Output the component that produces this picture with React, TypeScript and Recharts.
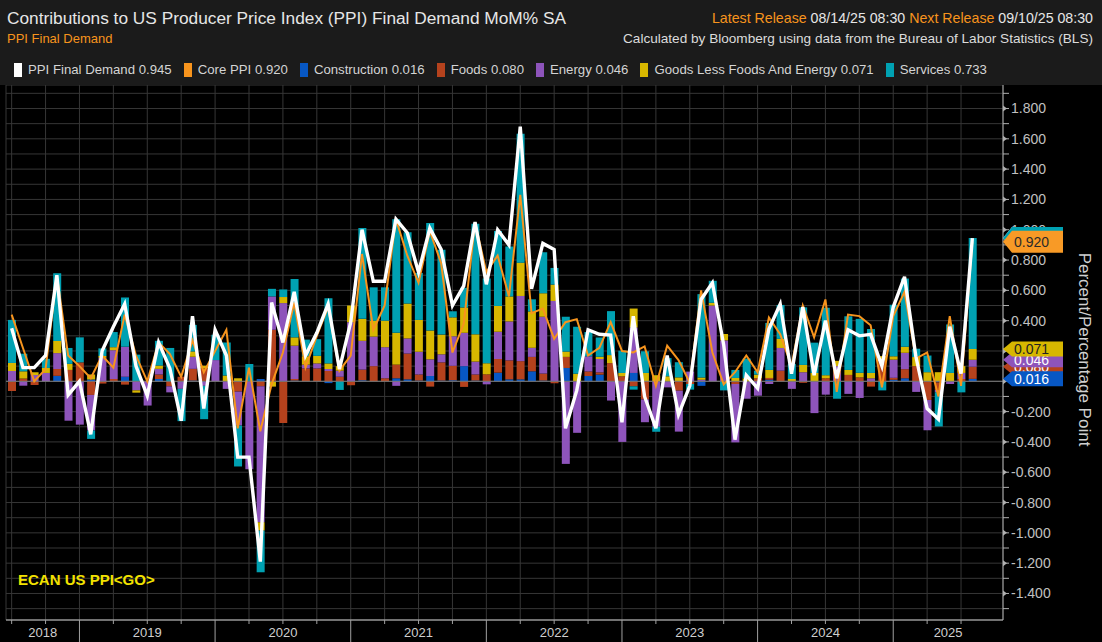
import React from 'react';
import {
  ComposedChart,
  Bar,
  Line,
  XAxis,
  YAxis,
  CartesianGrid,
  ReferenceLine,
} from 'recharts';

// monthly releases, Jun 2018 .. Jul 2025
const months = [
  'Jun 2018', 'Jul 2018', 'Aug 2018', 'Sep 2018', 'Oct 2018', 'Nov 2018', 'Dec 2018',
  'Jan 2019', 'Feb 2019', 'Mar 2019', 'Apr 2019', 'May 2019', 'Jun 2019', 'Jul 2019', 'Aug 2019', 'Sep 2019', 'Oct 2019', 'Nov 2019', 'Dec 2019',
  'Jan 2020', 'Feb 2020', 'Mar 2020', 'Apr 2020', 'May 2020', 'Jun 2020', 'Jul 2020', 'Aug 2020', 'Sep 2020', 'Oct 2020', 'Nov 2020', 'Dec 2020',
  'Jan 2021', 'Feb 2021', 'Mar 2021', 'Apr 2021', 'May 2021', 'Jun 2021', 'Jul 2021', 'Aug 2021', 'Sep 2021', 'Oct 2021', 'Nov 2021', 'Dec 2021',
  'Jan 2022', 'Feb 2022', 'Mar 2022', 'Apr 2022', 'May 2022', 'Jun 2022', 'Jul 2022', 'Aug 2022', 'Sep 2022', 'Oct 2022', 'Nov 2022', 'Dec 2022',
  'Jan 2023', 'Feb 2023', 'Mar 2023', 'Apr 2023', 'May 2023', 'Jun 2023', 'Jul 2023', 'Aug 2023', 'Sep 2023', 'Oct 2023', 'Nov 2023', 'Dec 2023',
  'Jan 2024', 'Feb 2024', 'Mar 2024', 'Apr 2024', 'May 2024', 'Jun 2024', 'Jul 2024', 'Aug 2024', 'Sep 2024', 'Oct 2024', 'Nov 2024', 'Dec 2024',
  'Jan 2025', 'Feb 2025', 'Mar 2025', 'Apr 2025', 'May 2025', 'Jun 2025', 'Jul 2025',
];

const construction = [
  0, 0, 0, 0, 0.036, 0, 0,
  0.012, 0, 0, 0.03, 0, 0, 0.015, 0, 0, 0.005, 0, 0,
  0, 0, 0, 0.015, 0, 0, 0.005, 0, 0, -0.012, 0, 0,
  0.007, 0, 0, 0.02, 0.013, 0.005, 0.035, 0.005, 0.007, 0.1, 0.005, 0,
  0.057, 0.013, 0.013, 0.066, 0.005, 0, 0.088, 0, 0.035, 0.044, 0, 0,
  0.055, 0, 0, 0, 0, 0, -0.03, 0, 0, 0, 0, 0,
  0.011, 0, 0, 0, 0, 0, 0, 0, 0, 0, 0, 0.01,
  0.02, 0, 0, -0.007, 0, 0, 0.016,
];

const foods = [
  -0.064, 0.018, -0.024, 0, 0.045, 0.075, 0.125,
  -0.09, -0.015, 0.015, -0.022, 0, 0, 0.03, -0.033, 0.03, 0.077, 0.085, 0,
  0, -0.068, 0, -0.033, 0.34, -0.275, 0.01, 0.085, 0.085, 0.068, 0.03, -0.026,
  0.07, 0.1, 0.02, 0.09, 0.17, 0.04, -0.035, 0.12, 0.095, -0.037, 0.04, 0.046,
  0.09, 0.125, 0.12, 0.095, 0.046, -0.013, 0.073, 0, 0.03, 0.015, 0.12, 0.033,
  -0.033, -0.12, 0, 0, -0.062, -0.018, 0, 0, 0, -0.018, 0, 0.02,
  0.011, 0.07, 0, -0.01, 0, 0.02, 0, 0.042, 0.026, -0.035, 0.136, 0.013,
  0.06, 0.1, -0.123, -0.05, 0, 0.015, 0.08,
];

const energy = [
  0.068, -0.029, 0.042, 0.055, 0.105, -0.26, -0.286,
  -0.235, 0.155, 0.19, 0.198, -0.06, -0.16, 0.037, -0.04, -0.05, 0.08, -0.03, 0.14,
  -0.05, -0.224, -0.58, -0.897, 0.22, 0.516, 0.22, 0.025, 0.033, 0.013, 0.04, 0.39,
  0.19, 0.195, 0.205, -0.03, 0.1, 0.15, 0.11, 0.053, 0.195, 0.22, 0.085, -0.02,
  0.18, 0.257, 0.43, 0.06, 0.375, 0.53, -0.545, -0.34, 0.1, 0.088, -0.127, -0.4,
  0.3, -0.15, -0.3, -0.04, -0.27, 0.064, 0.01, 0.5, 0.27, -0.385, -0.115, -0.095,
  -0.018, 0.15, -0.05, 0.06, -0.21, -0.088, 0.1, -0.083, -0.11, 0.02, 0, 0.12,
  0.108, -0.07, -0.2, -0.015, -0.018, 0.04, 0.046,
];

const goods = [
  0.053, 0.048, 0.018, 0.033, 0.08, 0.04, 0,
  0.033, 0.012, 0.02, 0, -0.015, 0, 0.022, 0, 0, 0.035, 0.018, 0,
  0.038, 0.02, 0, -0.055, -0.035, 0.04, 0.055, 0.055, 0.05, 0.037, 0.03, 0.11,
  0.145, 0.105, 0.175, 0.21, 0.23, 0.21, 0.19, 0.13, 0.125, 0.167, 0.18, 0.073,
  0.17, 0.165, 0.22, 0.24, 0.155, 0.108, 0.035, 0.05, 0, 0.015, 0.053, 0.022,
  0.125, 0.055, 0.04, 0.033, 0.026, 0, 0.015, 0.018, 0.042, 0.022, 0.02, 0.024,
  0.053, 0.06, 0.015, 0.048, 0.055, 0.02, 0.035, 0.033, 0.03, 0.035, 0.03, 0.022,
  0.04, 0.06, 0.06, 0.06, 0.055, 0.045, 0.071,
];

const services = [
  0.284, 0.116, 0, 0.06, 0.447, 0.105, 0.165,
  -0.055, 0.05, 0.1, 0.325, 0.176, 0, 0.163, 0.22, -0.213, 0.175, -0.22, 0.167,
  0.218, -0.27, 0.114, -0.275, 0.05, 0.05, 0.385, 0.11, 0.11, 0.43, -0.057, 0,
  0.6, 0.22, 0.22, 0.75, 0.47, 0.31, 0.71, 0.56, 0.04, 0.13, 0.73, 0.56,
  0.495, 0.33, 0.85, 0.08, 0.27, 0.11, 0.23, 0.31, 0.16, 0.127, 0.29, 0.147,
  -0.022, 0.143, -0.033, 0.12, 0.1, -0.037, 0.55, 0.145, -0.06, 0.053, 0.13, 0.026,
  0.31, 0.224, 0.1, 0.38, 0.2, 0.445, -0.115, 0.354, 0.356, 0.29, -0.06, 0.34,
  0.45, 0.055, 0.11, -0.226, 0.32, -0.073, 0.733,
];

const ppiFinal = [
  0.35, 0.09, 0.09, 0.17, 0.7, -0.09, 0,
  -0.35, 0.2, 0.36, 0.51, 0.1, -0.095, 0.257, 0.085, -0.26, 0.43, -0.18, 0.34,
  0.17, -0.5, -0.5, -1.19, 0.52, 0.256, 0.59, 0.17, 0.32, 0.51, 0.08, 0.39,
  1.0, 0.66, 0.66, 1.07, 0.98, 0.72, 1.01, 0.87, 0.5, 0.63, 1.05, 0.64,
  1.0, 0.9, 1.68, 0.61, 0.91, 0.87, -0.31, -0.06, 0.34, 0.31, 0.305, -0.27,
  0.43, -0.1, -0.31, 0.17, -0.22, -0.03, 0.54, 0.65, 0.24, -0.385, 0.04, -0.046,
  0.345, 0.51, 0.05, 0.49, 0.04, 0.4, 0.02, 0.34, 0.3, 0.31, 0.1, 0.49,
  0.69, 0.165, -0.18, -0.25, 0.36, 0.05, 0.945,
];

const corePpi = [
  0.44, 0.22, 0, 0.08, 0.7, 0.17, 0.1,
  0.02, 0.17, 0.09, 0.44, 0.17, 0, 0.257, 0.18, 0.03, 0.27, 0.06, 0.2,
  0.34, -0.31, 0.09, -0.33, -0.02, 0.19, 0.52, 0.09, 0.3, 0.49, 0.07, 0.17,
  0.84, 0.34, 0.5, 1.07, 0.83, 0.65, 0.99, 0.78, 0.19, 0.38, 1.05, 0.72,
  0.83, 0.56, 1.23, 0.45, 0.48, 0.28, 0.39, 0.41, 0.17, 0.22, 0.39, 0.2,
  0.19, 0.23, -0.03, 0.235, 0.14, -0.01, 0.6, 0.19, -0.02, 0.06, 0.17, 0.06,
  0.42, 0.31, 0.1, 0.5, 0.29, 0.54, -0.07, 0.44, 0.43, 0.37, -0.04, 0.43,
  0.59, 0.15, 0.19, -0.1, 0.43, -0.03, 0.92,
];

const yTicks = [
  -1.5, -1.4, -1.3, -1.2, -1.1, -1.0, -0.9, -0.8, -0.7, -0.6, -0.5, -0.4, -0.3, -0.2, -0.1,
  0, 0.1, 0.2, 0.3, 0.4, 0.5, 0.6, 0.7, 0.8, 0.9, 1.0, 1.1, 1.2, 1.3, 1.4, 1.5, 1.6, 1.7, 1.8, 1.9,
];

const components = [
  { key: 'construction', name: 'Construction', color: '#0757c4', text: '#ffffff', values: construction },
  { key: 'foods', name: 'Foods', color: '#b5421d', text: '#ffffff', values: foods },
  { key: 'energy', name: 'Energy', color: '#8e54bb', text: '#ffffff', values: energy },
  { key: 'goods', name: 'Goods Less Foods And Energy', color: '#d7b700', text: '#222222', values: goods },
  { key: 'services', name: 'Services', color: '#00a1b2', text: '#222222', values: services },
];

const lines = [
  { key: 'ppi', name: 'PPI Final Demand', color: '#ffffff', values: ppiFinal },
  { key: 'core', name: 'Core PPI', color: '#f7941d', values: corePpi },
];

const data = months.map((month, i) => {
  const row: Record<string, string | number> = { month };
  components.forEach((c) => (row[c.key] = c.values[i]));
  lines.forEach((l) => (row[l.key] = l.values[i]));
  return row;
});

const W = 1102;
const H = 642;
const HEADER_H = 85;
const PLOT_LEFT = 6;
const PLOT_RIGHT = 1003;
const PAD_RIGHT = 25;
const TAG_AXIS_W = 1;
const BAND = (PLOT_RIGHT - PLOT_LEFT - PAD_RIGHT) / months.length;
const FONT = '"Liberation Sans", Arial, sans-serif';
const Y_DOMAIN = [-1.575, 1.955];

const last = months.length - 1;
const fmt = (v: number) => v.toFixed(3);

// cumulative tops of the latest stacked bar, where the value tags sit
const stackTops: number[] = [];
components.reduce((acc, c) => {
  const v = c.values[last];
  const next = v > 0 ? acc + v : acc;
  stackTops.push(next);
  return next;
}, 0);

// value tags on the right axis, in drawing order (later ones on top)
const tags = [
  { value: ppiFinal[last], bg: '#ffffff', fg: '#222222', text: fmt(ppiFinal[last]), h: 22 },
  { value: stackTops[4], bg: components[4].color, fg: '#222222', text: fmt(services[last]), h: 22 },
  { value: corePpi[last], bg: '#f89a26', fg: '#2a2a2a', text: fmt(corePpi[last]), h: 22 },
  ...[1, 2, 3, 0].map((i) => ({
    value: stackTops[i],
    bg: components[i].color,
    fg: components[i].text,
    text: fmt(components[i].values[last]),
    h: 15,
  })),
];

function XTick(props: any) {
  const { x, y, payload } = props;
  const [mon, yr] = String(payload.value).split(' ');
  const isDec = mon === 'Dec';
  let label = null;
  if (mon === 'Jun') {
    const left = Math.max(PLOT_LEFT, x - 6 * BAND);
    const right = Math.min(PLOT_RIGHT, x + 6 * BAND);
    label = (
      <text x={(left + right) / 2} y={y + 17} textAnchor="middle" fill="#cfcfcf" fontSize={13}>
        {yr}
      </text>
    );
  }
  return (
    <g>
      <line x1={x} x2={x} y1={y} y2={y + (isDec ? 22 : 4)} stroke="#a0a0a0" />
      {label}
    </g>
  );
}

function YTick(props: any) {
  const { x, y, payload } = props;
  const v = Number(payload.value);
  const major = Math.round(v * 10) % 2 === 0;
  const x0 = PLOT_RIGHT;
  return (
    <g>
      {major && <path d={`M${x0} ${y - 3} L${x0 + 4} ${y} L${x0} ${y + 3} Z`} fill="#b0b0b0" />}
      <line x1={x0} x2={x0 + 6} y1={y} y2={y} stroke="#b0b0b0" />
      {major && (
        <text x={x0 + 8} y={y + 5} fill="#c0c0c0" fontSize={14}>
          {fmt(v)}
        </text>
      )}
    </g>
  );
}

function TagTick(props: any) {
  const { y, payload } = props;
  const tag = tags.find((t) => Math.abs(t.value - Number(payload.value)) < 1e-9);
  if (!tag) return null;
  const x0 = PLOT_RIGHT;
  const h = tag.h;
  const pts = `${x0},${y} ${x0 + 9},${y - h / 2} ${x0 + 60},${y - h / 2} ${x0 + 60},${y + h / 2} ${x0 + 9},${y + h / 2}`;
  return (
    <g>
      <polygon points={pts} fill={tag.bg} />
      <text x={x0 + 11} y={y + 5} fill={tag.fg} fontSize={14}>
        {tag.text}
      </text>
    </g>
  );
}

function AxisTitle(props: any) {
  const { viewBox } = props;
  if (!viewBox) return null;
  const cx = PLOT_RIGHT + 76;
  const cy = viewBox.y + viewBox.height / 2 - 3;
  return (
    <text
      x={cx}
      y={cy}
      transform={`rotate(90 ${cx} ${cy})`}
      textAnchor="middle"
      fill="#d0d0d0"
      fontSize={17}
    >
      Percent/Percentage Point
    </text>
  );
}

export default function App() {
  const quarterTicks = months.filter((_, i) => i % 3 === 0);

  return (
    <div
      style={{
        position: 'absolute',
        left: 0,
        top: 0,
        width: W,
        height: H,
        background: '#000',
        fontFamily: FONT,
        overflow: 'hidden',
      }}
    >
      <div style={{ position: 'absolute', left: 0, top: 0, width: W, height: HEADER_H, background: '#1b1b1b' }}>
        <div style={{ position: 'absolute', left: 7, top: 7, fontSize: 17.3, lineHeight: '22px', color: '#e6e6e6' }}>
          Contributions to US Producer Price Index (PPI) Final Demand MoM% SA
        </div>
        <div style={{ position: 'absolute', left: 7, top: 31, fontSize: 13, lineHeight: '16px', color: '#f7941d' }}>
          PPI Final Demand
        </div>
        <div style={{ position: 'absolute', right: 9, top: 10, fontSize: 14.2, lineHeight: '17px', color: '#e6e6e6' }}>
          <span style={{ color: '#f7941d' }}>Latest Release</span> 08/14/25 08:30{' '}
          <span style={{ color: '#f7941d' }}>Next Release</span> 09/10/25 08:30
        </div>
        <div style={{ position: 'absolute', right: 9, top: 30, fontSize: 13.6, lineHeight: '17px', color: '#dcdcdc' }}>
          Calculated by Bloomberg using data from the Bureau of Labor Statistics (BLS)
        </div>
        <div
          style={{
            position: 'absolute',
            left: 14,
            top: 62,
            display: 'flex',
            alignItems: 'center',
            fontSize: 13.2,
            lineHeight: '16px',
            color: '#d4d4d4',
            whiteSpace: 'nowrap',
          }}
        >
          {[...lines, ...components].map((s) => (
            <div key={s.key} style={{ display: 'flex', alignItems: 'center', marginRight: 12 }}>
              <span style={{ width: 8, height: 14, background: s.color, marginRight: 6, display: 'inline-block' }} />
              {s.name} {fmt(s.values[last])}
            </div>
          ))}
        </div>
      </div>

      <div style={{ position: 'absolute', left: 0, top: HEADER_H }}>
        <ComposedChart
          width={W}
          height={H - HEADER_H}
          data={data}
          stackOffset="sign"
          margin={{ top: 0, right: 0, bottom: 0, left: PLOT_LEFT }}
        >
          <CartesianGrid stroke="#363636" strokeWidth={1} />
          <XAxis
            dataKey="month"
            ticks={quarterTicks}
            interval={0}
            height={22}
            tickSize={0}
            tickMargin={0}
            tickLine={false}
            tick={<XTick />}
            axisLine={{ stroke: '#c8c8c8' }}
            padding={{ left: 0, right: PAD_RIGHT }}
          />
          <YAxis
            orientation="right"
            width={W - PLOT_RIGHT - TAG_AXIS_W}
            domain={Y_DOMAIN}
            allowDataOverflow
            ticks={yTicks}
            interval={0}
            tickSize={0}
            tickMargin={0}
            tickLine={false}
            tick={<YTick />}
            axisLine={{ stroke: '#b0b0b0' }}
            label={<AxisTitle />}
          />
          <YAxis
            yAxisId="tags"
            orientation="right"
            width={TAG_AXIS_W}
            domain={Y_DOMAIN}
            allowDataOverflow
            ticks={tags.map((t) => t.value)}
            interval={0}
            tickSize={0}
            tickMargin={0}
            tickLine={false}
            axisLine={false}
            tick={<TagTick />}
          />
          <ReferenceLine y={0} stroke="#7c7c7c" />
          {components.map((c) => (
            <Bar
              key={c.key}
              dataKey={c.key}
              stackId="contrib"
              fill={c.color}
              barSize={8}
              isAnimationActive={false}
            />
          ))}
          <Line
            dataKey="core"
            type="linear"
            stroke="#f7941d"
            strokeWidth={2}
            dot={false}
            isAnimationActive={false}
          />
          <Line
            dataKey="ppi"
            type="linear"
            stroke="#ffffff"
            strokeWidth={3.4}
            dot={false}
            isAnimationActive={false}
          />
        </ComposedChart>
      </div>

      <div
        style={{
          position: 'absolute',
          left: 18,
          top: 571,
          fontSize: 15,
          fontWeight: 'bold',
          color: '#f2e200',
        }}
      >
        ECAN US PPI&lt;GO&gt;
      </div>
    </div>
  );
}
